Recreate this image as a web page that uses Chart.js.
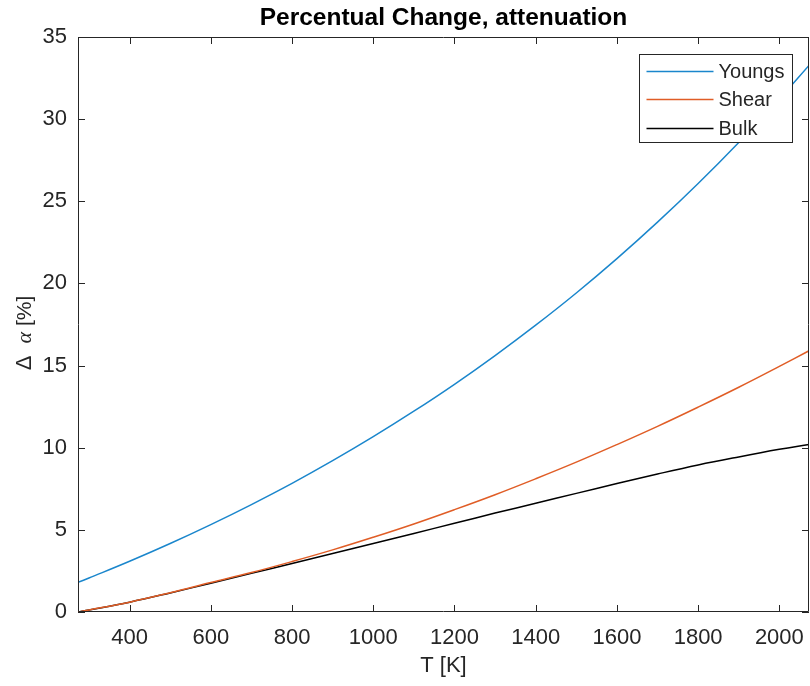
<!DOCTYPE html>
<html>
<head>
<meta charset="utf-8">
<script src="https://cdn.jsdelivr.net/npm/chart.js@4.4.1/dist/chart.umd.min.js"></script>
<style>
  html, body { margin: 0; padding: 0; background: #fff; }
  #wrap { position: relative; width: 810px; height: 686px; }
</style>
</head>
<body>
<div id="wrap"><canvas id="c" width="810" height="686"></canvas></div>
<script>
// ---- data ----
const temps  = [273, 300, 400, 500, 600, 700, 800, 900, 1000, 1100, 1200, 1300, 1400, 1500, 1600, 1700, 1800, 1900, 2000, 2073];
const youngs = [1.8, 2.07, 3.09, 4.17, 5.32, 6.54, 7.83, 9.21, 10.67, 12.22, 13.86, 15.61, 17.46, 19.42, 21.51, 23.73, 26.08, 28.58, 31.23, 33.27];
const shear  = [0, 0.12, 0.6, 1.17, 1.79, 2.40, 3.07, 3.78, 4.55, 5.36, 6.23, 7.14, 8.11, 9.12, 10.19, 11.3, 12.47, 13.68, 14.95, 15.9];
const bulk   = [0, 0.12, 0.6, 1.16, 1.75, 2.35, 2.95, 3.56, 4.17, 4.78, 5.4, 6.02, 6.62, 7.22, 7.82, 8.4, 8.95, 9.44, 9.9, 10.2];
const seriesNames = ['Youngs', 'Shear', 'Bulk'];
const xTicks = [400, 600, 800, 1000, 1200, 1400, 1600, 1800, 2000];
const yTicks = [0, 5, 10, 15, 20, 25, 30, 35];
const xRange = [273, 2073];
const yRange = [0, 35];
const titleText = 'Percentual Change, attenuation';
const xLabel = 'T [K]';

const AXIS = '#262626';
const colors = ['#1a86cc', '#e05d26', '#000000'];
const FONT = "'Liberation Sans', Arial, sans-serif";

const toPts = (ys) => temps.map((t, i) => ({x: t, y: ys[i]}));

// box + inward ticks on all four sides
const boxPlugin = {
  id: 'box',
  afterDatasetsDraw(chart) {
    const {ctx, chartArea: a, scales: {x, y}} = chart;
    const L = 7;
    ctx.save();
    ctx.strokeStyle = AXIS;
    ctx.lineWidth = 1;
    ctx.beginPath();
    ctx.rect(Math.round(a.left) + 0.5, Math.round(a.top) + 0.5,
             Math.round(a.right - a.left) - 1, Math.round(a.bottom - a.top) - 1);
    ctx.stroke();
    ctx.beginPath();
    x.ticks.forEach(t => {
      const px = Math.round(x.getPixelForValue(t.value)) + 0.5;
      ctx.moveTo(px, a.bottom); ctx.lineTo(px, a.bottom - L);
      ctx.moveTo(px, a.top); ctx.lineTo(px, a.top + L);
    });
    y.ticks.forEach(t => {
      const py = Math.round(y.getPixelForValue(t.value)) + 0.5;
      ctx.moveTo(a.left, py); ctx.lineTo(a.left + L, py);
      ctx.moveTo(a.right, py); ctx.lineTo(a.right - L, py);
    });
    ctx.stroke();
    ctx.restore();
  }
};

// legend box inside the plot (top-right) + y-axis label with mixed fonts
const overlayPlugin = {
  id: 'overlay',
  afterDraw(chart) {
    const {ctx, chartArea: a} = chart;
    ctx.save();
    const bw = 153, bh = 88;
    const bx = Math.round(a.right - 17 - bw) + 0.5, by = Math.round(a.top + 17) + 0.5;
    ctx.fillStyle = '#fff';
    ctx.fillRect(bx, by, bw, bh);
    ctx.strokeStyle = AXIS;
    ctx.lineWidth = 1;
    ctx.strokeRect(bx, by, bw, bh);
    const rows = [16, 44, 73];
    ctx.font = '20px ' + FONT;
    ctx.textBaseline = 'middle';
    ctx.textAlign = 'left';
    chart.data.datasets.forEach((ds, i) => {
      const yy = Math.round(by + rows[i]) + 0.5;
      ctx.strokeStyle = ds.borderColor;
      ctx.lineWidth = 1.3;
      ctx.beginPath();
      ctx.moveTo(bx + 7, yy); ctx.lineTo(bx + 74, yy);
      ctx.stroke();
      ctx.fillStyle = AXIS;
      ctx.fillText(ds.label, bx + 79, yy + 1);
    });
    // y label: Δ α [%]
    const parts = [
      {t: '\u0394  ', f: '22px ' + FONT},
      {t: '\u03B1', f: 'italic 22px "Liberation Serif", serif'},
      {t: ' [%]', f: '21px ' + FONT}
    ];
    let total = 0;
    parts.forEach(p => { ctx.font = p.f; p.w = ctx.measureText(p.t).width; total += p.w; });
    ctx.translate(31, 333);
    ctx.rotate(-Math.PI / 2);
    ctx.fillStyle = AXIS;
    ctx.textBaseline = 'alphabetic';
    let cx = -total / 2;
    parts.forEach(p => { ctx.font = p.f; ctx.fillText(p.t, cx, 0); cx += p.w; });
    ctx.restore();
  }
};

new Chart(document.getElementById('c'), {
  type: 'line',
  data: {
    datasets: seriesNames.map((name, i) => ({
      label: name,
      data: toPts([youngs, shear, bulk][i]),
      borderColor: colors[i],
      backgroundColor: colors[i],
      borderWidth: 1.5,
      pointRadius: 0,
      tension: 0.4,
      fill: false
    }))
  },
  options: {
    responsive: false,
    animation: false,
    events: [],
    layout: {padding: {left: 0, right: 1, top: 0, bottom: 0}},
    plugins: {
      legend: {display: false},
      tooltip: {enabled: false},
      title: {
        display: true,
        text: titleText,
        fullSize: false,
        color: '#000',
        font: {family: FONT, size: 24.5, weight: 'bold'},
        padding: {top: 3.5, bottom: 4.1}
      }
    },
    scales: {
      x: {
        type: 'linear',
        min: xRange[0], max: xRange[1],
        afterBuildTicks: (s) => { s.ticks = xTicks.map(v => ({value: v})); },
        afterFit: (s) => { s.height = 74; s.paddingLeft = 0; s.paddingRight = 0; },
        grid: {display: false, drawTicks: false},
        border: {display: false},
        ticks: {color: AXIS, font: {family: FONT, size: 22}, padding: 13, maxRotation: 0, autoSkip: false,
                callback: (v) => String(v)},
        title: {display: true, text: xLabel, color: AXIS, font: {family: FONT, size: 22}, padding: {top: 2, bottom: 7}}
      },
      y: {
        type: 'linear',
        min: yRange[0], max: yRange[1],
        afterBuildTicks: (s) => { s.ticks = yTicks.map(v => ({value: v})); },
        afterFit: (s) => { s.width = 78; s.paddingTop = 0; s.paddingBottom = 0; },
        grid: {display: false, drawTicks: false},
        border: {display: false},
        ticks: {color: AXIS, font: {family: FONT, size: 22}, padding: 11, autoSkip: false,
                callback: (v) => String(v)}
      }
    }
  },
  plugins: [boxPlugin, overlayPlugin]
});
</script>
</body>
</html>
